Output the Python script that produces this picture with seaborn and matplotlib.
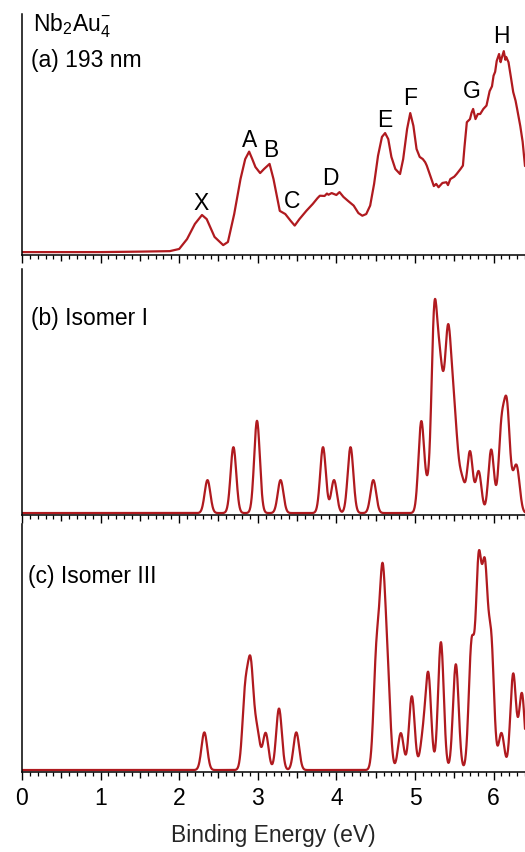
import numpy as np
import pandas as pd
import matplotlib.pyplot as plt
import seaborn as sns
from matplotlib.ticker import MultipleLocator, FuncFormatter

exp_energy = [0.0, 1.0, 1.5, 1.88, 2.0, 2.1, 2.2, 2.29, 2.35, 2.45, 2.56, 2.62, 2.70,
              2.78, 2.84, 2.89, 2.93, 2.97, 3.03, 3.08, 3.15, 3.20, 3.28, 3.35, 3.42,
              3.47, 3.53, 3.62, 3.70, 3.76, 3.79, 3.85, 3.88, 3.90, 3.94, 4.00, 4.04,
              4.09, 4.15, 4.22, 4.28, 4.33, 4.38, 4.43, 4.48, 4.53, 4.58, 4.62, 4.66,
              4.70, 4.75, 4.81, 4.85, 4.90, 4.94, 4.98, 5.02, 5.06, 5.10, 5.13, 5.15,
              5.20, 5.24, 5.27, 5.30, 5.33, 5.35, 5.40, 5.42, 5.45, 5.50, 5.53, 5.58,
              5.61, 5.63, 5.66, 5.70, 5.72, 5.74, 5.77, 5.80, 5.83, 5.87, 5.91, 5.95,
              5.98, 6.00, 6.02, 6.04, 6.07, 6.09, 6.10, 6.13, 6.15, 6.16, 6.19, 6.22,
              6.25, 6.28, 6.30, 6.34, 6.37, 6.40]
exp_signal = [0.012, 0.012, 0.014, 0.016, 0.025, 0.066, 0.129, 0.166, 0.149, 0.075,
              0.041, 0.054, 0.170, 0.315, 0.398, 0.429, 0.398, 0.365, 0.340, 0.357,
              0.378, 0.315, 0.183, 0.170, 0.141, 0.122, 0.149, 0.184, 0.212, 0.236,
              0.246, 0.245, 0.255, 0.250, 0.257, 0.249, 0.261, 0.241, 0.224, 0.205,
              0.174, 0.163, 0.170, 0.205, 0.295, 0.412, 0.490, 0.506, 0.481, 0.407,
              0.357, 0.336, 0.398, 0.523, 0.589, 0.536, 0.440, 0.407, 0.398, 0.385,
              0.371, 0.324, 0.286, 0.295, 0.281, 0.292, 0.299, 0.302, 0.290, 0.315,
              0.325, 0.336, 0.357, 0.371, 0.448, 0.551, 0.564, 0.590, 0.606, 0.564,
              0.585, 0.585, 0.606, 0.620, 0.680, 0.700, 0.744, 0.760, 0.805, 0.834,
              0.800, 0.813, 0.846, 0.810, 0.822, 0.800, 0.739, 0.676, 0.640, 0.606,
              0.535, 0.470, 0.369]

peak_names = ["X", "A", "B", "C", "D", "E", "F", "G", "H"]
peak_label_x = [2.28, 2.90, 3.16, 3.43, 3.92, 4.61, 4.94, 5.72, 6.10]
peak_label_y = [0.219, 0.481, 0.437, 0.225, 0.322, 0.561, 0.654, 0.682, 0.91]

# (b) isomer I simulated detachment transitions (eV, relative intensity)
iso1_pos = [2.36, 2.69, 2.99, 3.29, 3.83, 3.97, 4.18, 4.47, 5.08, 5.16, 5.245,
            5.31, 5.36, 5.42, 5.48, 5.53, 5.60, 5.70, 5.81, 5.97, 6.10, 6.17,
            6.25, 6.30]
iso1_int = [0.135, 0.27, 0.378, 0.135, 0.27, 0.135, 0.27, 0.135, 0.37, 0.08,
            0.76, 0.45, 0.25, 0.62, 0.34, 0.18, 0.12, 0.25, 0.17, 0.26, 0.33,
            0.41, 0.08, 0.16]

# (c) isomer III simulated detachment transitions (eV, relative intensity)
iso3_pos = [2.32, 2.84, 2.91, 2.99, 3.10, 3.27, 3.49, 4.51, 4.585, 4.65, 4.82,
            4.96, 5.10, 5.17, 5.33, 5.52, 5.72, 5.81, 5.89, 5.97, 6.10, 6.25, 6.36]
iso3_int = [0.153, 0.30, 0.40, 0.15, 0.15, 0.25, 0.153, 0.45, 0.72, 0.36, 0.15,
            0.30, 0.12, 0.38, 0.52, 0.43, 0.50, 0.80, 0.75, 0.50, 0.15, 0.39, 0.31]

panel_labels = ["(b) Isomer I", "(c) Isomer III"]
line_color = "#b01a1f"
sigma = 0.036


def broaden(pos, inten, grid):
    # gaussian broadening of the stick spectrum
    p = np.asarray(pos)[:, None]
    h = np.asarray(inten)[:, None]
    return (h * np.exp(-(grid - p) ** 2 / (2 * sigma ** 2))).sum(axis=0)


sns.set_theme(style="ticks")
plt.rcParams["font.family"] = ["Liberation Sans", "DejaVu Sans"]
plt.rcParams["mathtext.fontset"] = "custom"
plt.rcParams["mathtext.rm"] = "Liberation Sans"
plt.rcParams["mathtext.it"] = "Liberation Sans"
plt.rcParams["text.color"] = "black"
plt.rcParams["xtick.color"] = "black"

grid = np.linspace(0, 6.4, 1600)
df_a = pd.DataFrame({"energy": exp_energy, "signal": exp_signal})
df_b = pd.DataFrame({"energy": grid, "signal": broaden(iso1_pos, iso1_int, grid)})
df_c = pd.DataFrame({"energy": grid, "signal": broaden(iso3_pos, iso3_int, grid)})

fig = plt.figure(figsize=(5.25, 8.53), dpi=100)
left, width = 22 / 525, 1 - 22 / 525
ax_a = fig.add_axes([left, 1 - 256 / 853, width, 241 / 853])
ax_b = fig.add_axes([left, 1 - 516 / 853, width, 246 / 853])
ax_c = fig.add_axes([left, 1 - 773 / 853, width, 248 / 853])

for ax, df in zip([ax_a, ax_b, ax_c], [df_a, df_b, df_c]):
    sns.lineplot(data=df, x="energy", y="signal", ax=ax, color=line_color,
                 lw=1.6, errorbar=None, sort=False)
    ax.set_xlim(0, 6.4)
    ax.set_yticks([])
    ax.set_ylabel("")
    ax.set_xlabel("")
    sns.despine(ax=ax)
    for s in ["left", "bottom"]:
        ax.spines[s].set_linewidth(1.1)
        ax.spines[s].set_color("black")
    ax.xaxis.set_major_locator(MultipleLocator(0.5))
    ax.xaxis.set_minor_locator(MultipleLocator(0.1))
    ax.tick_params(axis="x", which="major", length=6, width=1.0, direction="out",
                   color="black", labelsize=16.5, pad=4)
    ax.tick_params(axis="x", which="minor", length=3, width=0.9, direction="out",
                   color="black")
    ax.xaxis.set_major_formatter(
        FuncFormatter(lambda v, _: f"{v:.0f}" if abs(v - round(v)) < 1e-6 else ""))
    for t, v in zip(ax.xaxis.get_major_ticks(), ax.get_xticks()):
        if abs(v - round(v)) > 1e-6:
            t.tick1line.set_markersize(4.5)

ax_a.set_ylim(0, 1)
ax_b.set_ylim(-0.008, 1.0)
ax_c.set_ylim(-0.008, 1.0)
ax_a.tick_params(axis="x", labelbottom=False)
ax_b.tick_params(axis="x", labelbottom=False)

for name, x, y in zip(peak_names, peak_label_x, peak_label_y):
    ax_a.text(x, y, name, ha="center", va="center", fontsize=16.5)

ax_a.text(0.14, 0.955, r"Nb$_2$Au$_4^{-}$", ha="left", va="center", fontsize=16.5)
ax_a.text(0.11, 0.81, "(a) 193 nm", ha="left", va="center", fontsize=16.5)
ax_b.text(0.11, 0.80, panel_labels[0], ha="left", va="center", fontsize=16.5)
ax_c.text(0.07, 0.79, panel_labels[1], ha="left", va="center", fontsize=16.5)

ax_c.set_xlabel("Binding Energy (eV)", fontsize=16.5, labelpad=10)

fig.savefig("out.png", dpi=100)
